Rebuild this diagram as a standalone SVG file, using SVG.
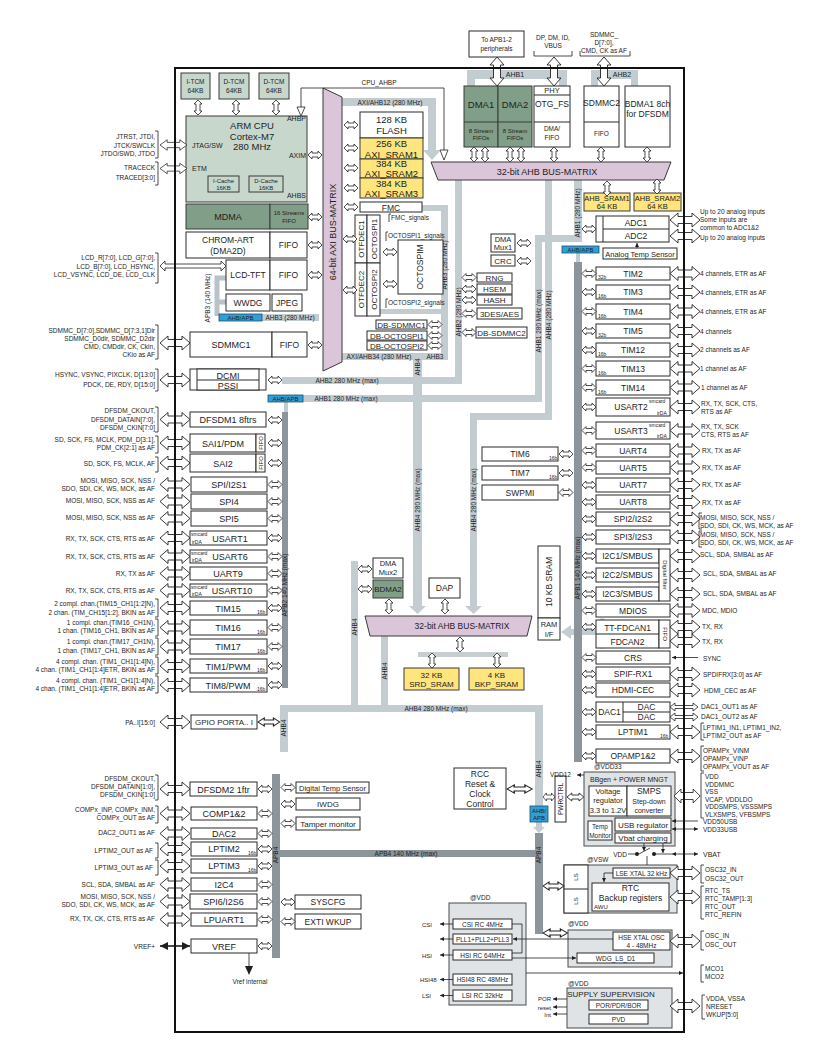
<svg xmlns="http://www.w3.org/2000/svg" width="837" height="1051" viewBox="0 0 837 1051">
<defs>
<style>
text{font-family:"Liberation Sans",Arial,Helvetica,sans-serif;fill:#1e1e1e}
.c{text-anchor:middle}.e{text-anchor:end}
.f5{font-size:5px}.f6{font-size:6px}.f65{font-size:6.5px}.f7{font-size:7px}.f75{font-size:7.5px}.f8{font-size:8px}.f85{font-size:8.5px}.f9{font-size:9px}.f95{font-size:9.5px}
.bx{fill:#fff;stroke:#2a2a2a;stroke-width:1}
.lg{fill:#c8d7cb;stroke:#3a3a3a;stroke-width:1}
.dg{fill:#819f88;stroke:#3a3a3a;stroke-width:1}
.ye{fill:#fee57d;stroke:#3a3a3a;stroke-width:1}
.pu{fill:#dbc5d9;stroke:#3a3a3a;stroke-width:1}
.pw{fill:#dfe3e6;stroke:#4a4a4a;stroke-width:1}
.bus{fill:#c3ccd1}
.apb{fill:#8c959b}
.ab{fill:#2f9fd8;stroke:#1d4f6e;stroke-width:0.8}
.ln{fill:none;stroke:#1e1e1e;stroke-width:0.8}
.br{fill:none;stroke:#1e1e1e;stroke-width:0.8}
.ah{fill:#1e1e1e}
</style>
<path id="da" d="M0,0 L4,-4 V-2 H10 V-4 L14,0 L10,4 V2 H4 V4 Z" fill="#fff" stroke="#222" stroke-width="0.8"/>
<path id="dv" d="M0,0 L4,4 H2 V11 H4 L0,15 L-4,11 H-2 V4 H-4 Z" fill="#fff" stroke="#222" stroke-width="0.8"/>
<path id="fa" d="M0,0 L8,-7 V-3.5 H22 V-7 L30,0 L22,7 V3.5 H8 V7 Z" fill="#fff" stroke="#222" stroke-width="0.9"/>
<path id="fv" d="M0,0 L7,8 H3.5 V21 H7 L0,29 L-7,21 H-3.5 V8 H-7 Z" fill="#fff" stroke="#222" stroke-width="0.9"/>
<path id="ta" d="M0,0 L5,-4 V-1.5 H23 V-4 L28,0 L23,4 V1.5 H5 V4 Z" fill="#fff" stroke="#222" stroke-width="0.8"/>
<marker id="m" viewBox="0 0 8 8" refX="8" refY="4" markerWidth="5" markerHeight="5" orient="auto-start-reverse"><path d="M0,0 L8,4 L0,8 Z" fill="#1e1e1e"/></marker>
</defs>
<rect width="837" height="1051" fill="#fff"/>

<!-- bus bars -->
<g id="buses">
<rect class="bus" x="467" y="70" width="100" height="9"/><rect class="bus" x="467" y="70" width="8" height="16"/><rect class="bus" x="559" y="70" width="8" height="16"/>
<rect class="bus" x="591" y="70" width="47" height="9"/><rect class="bus" x="591" y="70" width="7" height="16"/><rect class="bus" x="631" y="70" width="7" height="16"/>
<rect class="bus" x="342" y="98" width="94" height="8"/><rect class="bus" x="428" y="98" width="8" height="52"/><polygon class="bus" points="423,150 441,150 432,160"/>
<rect class="bus" x="422" y="205" width="26" height="6"/><rect class="bus" x="441" y="205" width="7" height="155"/><rect class="bus" x="342" y="353" width="106" height="7"/>
<rect class="bus" x="380" y="309" width="62" height="5"/>
<rect class="bus" x="455" y="180" width="7" height="204"/><rect class="bus" x="282" y="377" width="180" height="7"/>
<rect class="bus" x="574" y="180" width="8" height="62"/><rect class="bus" x="535" y="235" width="47" height="7"/><rect class="bus" x="535" y="235" width="7" height="167"/><rect class="bus" x="302" y="395" width="240" height="7"/>
<rect class="bus" x="545" y="180" width="7" height="240"/><rect class="bus" x="470" y="413" width="82" height="7"/><rect class="bus" x="470" y="413" width="7" height="193"/><polygon class="bus" points="465,606 482,606 473.5,614"/>
<rect class="bus" x="413" y="353" width="9" height="253"/><polygon class="bus" points="409,606 426,606 417.5,614"/>
<rect class="bus" x="576" y="253" width="4" height="9"/>
<rect class="bus" x="284" y="402" width="4" height="10"/>
<path d="M226,278 H217 V316 M226,302 H217" fill="none" stroke="#b9c2c7" stroke-width="5"/>
<rect class="bus" x="262" y="314" width="57" height="7"/>
<rect class="bus" x="351" y="561" width="7" height="150"/>
<rect class="bus" x="381" y="636" width="7" height="75"/>
<rect class="bus" x="280" y="705" width="263" height="7"/>
<rect class="bus" x="280" y="705" width="8" height="47"/>
<rect class="bus" x="535" y="705" width="8" height="101"/>
<rect class="bus" x="536" y="822" width="6" height="6"/><polygon class="bus" points="533,827 545,827 539,833"/>
<rect fill="#c8cdd0" x="418" y="652" width="90" height="5"/>
<path d="M600,620 H603 V647 H600" fill="none" stroke="#bfc6ca" stroke-width="3"/>
<rect class="bus" x="570" y="629" width="31" height="6"/><polygon class="bus" points="561,632 571,625 571,639"/>
<rect class="apb" x="574" y="262" width="8" height="500"/>
<rect class="apb" x="282" y="412" width="6" height="276"/>
<rect class="apb" x="272" y="774" width="8" height="184"/>
<rect class="apb" x="280" y="850" width="263" height="7"/>
<rect class="apb" x="535" y="833" width="8" height="101"/>
</g>

<!-- bus labels -->
<g id="bus-labels">
<text class="c f7" x="515" y="77">AHB1</text>
<text class="c f7" x="622" y="77">AHB2</text>
<text class="c f65" x="390" y="104.5">AXI/AHB12 (280 MHz)</text>
<text class="c f65" x="379" y="85">CPU_AHBP</text>
<text class="c f65" x="379" y="359">AXI/AHB34 (280 MHz)</text>
<text class="c f65" x="435" y="359">AHB3</text>
<text class="c f65" x="347" y="383">AHB2 280 MHz (max)</text>
<text class="c f65" x="346" y="401">AHB1 280 MHz (max)</text>
<text class="c f65" x="290" y="320">AHB3 (280 MHz)</text>
<text class="c f65" transform="translate(210,298) rotate(-90)">APB3 (140 MHz)</text>
<text class="c f65" transform="translate(447,265) rotate(-90)">AHB3 (280 MHz)</text>
<text class="c f65" transform="translate(461,312) rotate(-90)">AHB2 (280 MHz)</text>
<text class="c f65" transform="translate(541,321) rotate(-90)">AHB1 280 MHz (max)</text>
<text class="c f65" transform="translate(551,315) rotate(-90)">AHB4 (280 MHz)</text>
<text class="c f65" transform="translate(580,213) rotate(-90)">AHB1 (280 MHz)</text>
<text class="c f65" transform="translate(420,367) rotate(-90)">AHB4</text>
<text class="c f65" transform="translate(420,500) rotate(-90)">AHB4 280 MHz (max)</text>
<text class="c f65" transform="translate(476,500) rotate(-90)">AHB4 280 MHz (max)</text>
<text class="c f65" transform="translate(580,568) rotate(-90)">APB1   140 MHz (max)</text>
<text class="c f65" transform="translate(287,585) rotate(-90)">APB2   140 MHz (max)</text>
<text class="c f65" transform="translate(357,627) rotate(-90)">AHB4</text>
<text class="c f65" transform="translate(387,671) rotate(-90)">AHB4</text>
<text class="c f65" transform="translate(286,728) rotate(-90)">AHB4</text>
<text class="c f65" transform="translate(541,769) rotate(-90)">AHB4</text>
<text class="c f65" x="436" y="711">AHB4 280 MHz (max)</text>
<text class="c f65" x="406" y="856">APB4   140 MHz (max)</text>
<text class="c f65" transform="translate(541,855) rotate(-90)">APB4</text>
<text class="c f65" transform="translate(278,855) rotate(-90)">APB4</text>
<g id="ahbapb1"><rect class="ab" x="219" y="314" width="43" height="7"/><text class="c f6" x="240.5" y="320">AHB/APB</text></g>
<g id="ahbapb2"><rect class="ab" x="268" y="395" width="35" height="7"/><text class="c f6" x="285.5" y="401">AHB/APB</text></g>
<g id="ahbapb3"><rect class="ab" x="562" y="246" width="37" height="7"/><text class="c f6" x="580.5" y="252">AHB/APB</text></g>
<g id="ahbapb4"><rect class="ab" x="530" y="806" width="18" height="16"/><text class="c f6" x="539" y="813">AHB/</text><text class="c f6" x="539" y="820">APB</text></g>
</g>

<!-- core -->
<g id="itcm"><rect class="lg" x="181" y="73" width="29" height="26"/><text class="c f65" x="195.5" y="84">I-TCM</text><text class="c f65" x="195.5" y="93">64KB</text></g>
<g id="dtcm1"><rect class="lg" x="219" y="73" width="30" height="26"/><text class="c f65" x="234" y="84">D-TCM</text><text class="c f65" x="234" y="93">64KB</text></g>
<g id="dtcm2"><rect class="lg" x="259" y="73" width="30" height="26"/><text class="c f65" x="274" y="84">D-TCM</text><text class="c f65" x="274" y="93">64KB</text></g>
<g id="cpu"><rect class="lg" x="186" y="116" width="121" height="86"/>
<text class="c f95" x="252" y="129">ARM  CPU</text><text class="c f95" x="252" y="139.5">Cortex-M7</text><text class="c f95" x="252" y="150">280 MHz</text>
<text class="f7" x="192" y="147.5">JTAG/SW</text><text class="f7" x="192" y="170.5">ETM</text>
<text class="e f7" x="306" y="121">AHBP</text><text class="e f7" x="306" y="157.5">AXIM</text><text class="e f7" x="306" y="197.5">AHBS</text>
<rect class="lg" x="208" y="176" width="31" height="16"/><text class="c f6" x="223.5" y="183">I-Cache</text><text class="c f6" x="223.5" y="190">16KB</text>
<rect class="lg" x="249" y="176" width="34" height="16"/><text class="c f6" x="266" y="183">D-Cache</text><text class="c f6" x="266" y="190">16KB</text></g>
<g id="mdma"><rect class="dg" x="186" y="204" width="84" height="25"/><text class="c f9" x="228" y="220">MDMA</text>
<rect class="dg" x="270" y="204" width="38" height="25"/><text class="c f6" x="289" y="214.5">16 Streams</text><text class="c f6" x="289" y="223">FIFO</text></g>
<g id="dma2d"><rect class="bx" x="186" y="232" width="84" height="26"/><text class="c f85" x="228" y="242.5">CHROM-ART</text><text class="c f85" x="228" y="253.5">(DMA2D)</text>
<rect class="bx" x="270" y="232" width="37" height="26"/><text class="c f85" x="288.5" y="248">FIFO</text></g>
<g id="lcdtft"><rect class="bx" x="226" y="260" width="44" height="30"/><text class="c f85" x="248" y="278">LCD-TFT</text>
<rect class="bx" x="270" y="260" width="37" height="30"/><text class="c f85" x="288.5" y="278">FIFO</text></g>
<g id="wwdg"><rect class="bx" x="226" y="294" width="44" height="17"/><text class="c f85" x="248" y="305.5">WWDG</text></g>
<g id="jpeg"><rect class="bx" x="272" y="294" width="30" height="17"/><text class="c f85" x="287" y="305.5">JPEG</text></g>
<g id="axi-matrix"><polygon class="pu" points="323,88 342,97 342,362 323,371"/><text class="c f9" transform="translate(336,232) rotate(-90)">64-bit AXI BUS-MATRIX</text></g>
<g id="flash"><rect class="bx" x="360" y="112" width="63" height="26"/><text class="c f95" x="391.5" y="123">128 KB</text><text class="c f95" x="391.5" y="134">FLASH</text></g>
<g id="axisram"><rect class="ye" x="360" y="138" width="63" height="21"/><rect class="ye" x="360" y="159" width="63" height="19"/><rect class="ye" x="360" y="178" width="63" height="20"/>
<text class="c f95" x="391.5" y="147">256 KB</text><text class="c f95" x="391.5" y="157.5">AXI_SRAM1</text>
<text class="c f95" x="391.5" y="167">384 KB</text><text class="c f95" x="391.5" y="177">AXI_SRAM2</text>
<text class="c f95" x="391.5" y="186.5">384 KB</text><text class="c f95" x="391.5" y="196.5">AXI_SRAM3</text></g>
<g id="fmc"><rect class="bx" x="360" y="202" width="62" height="10"/><text class="c f85" x="391" y="210.5">FMC</text>
<path class="br" d="M391,214 H389 V222"/><text class="f65" x="391" y="220">FMC_signals</text></g>
<g id="octospi"><rect class="bx" x="355" y="215" width="12" height="48"/><rect class="bx" x="367" y="215" width="13" height="48"/>
<rect class="bx" x="355" y="263" width="12" height="53"/><rect class="bx" x="367" y="263" width="13" height="53"/>
<text class="c f8" transform="translate(364,239) rotate(-90)">OTFDEC1</text><text class="c f8" transform="translate(376.5,239) rotate(-90)">OCTOSPI1</text>
<text class="c f8" transform="translate(364,289.5) rotate(-90)">OTFDEC2</text><text class="c f8" transform="translate(376.5,289.5) rotate(-90)">OCTOSPI2</text>
<path class="br" d="M388,232 H386 V241"/><text class="f65" x="388" y="238">OCTOSPI1_signals</text>
<path class="br" d="M388,299 H386 V308"/><text class="f65" x="388" y="305">OCTOSPI2_signals</text></g>
<g id="octospim"><rect class="bx" x="398" y="240" width="45" height="54"/><text class="c f85" transform="translate(423,267) rotate(-90)">OCTOSPIM</text></g>
<g id="dbsdmmc1"><rect class="bx" x="376" y="320" width="51" height="9"/><text class="c f8" x="401.5" y="327.5">DB-SDMMC1</text></g>
<g id="dbospi1"><rect class="bx" x="367" y="331" width="60" height="9"/><text class="c f8" x="397" y="338.5">DB-OCTOSPI1</text></g>
<g id="dbospi2"><rect class="bx" x="367" y="341" width="60" height="9"/><text class="c f8" x="397" y="348.5">DB-OCTOSPI2</text></g>

<!-- top AHB side -->
<g id="to-apb"><rect class="bx" x="469" y="31" width="55" height="26"/><text class="c f65" x="496.5" y="42">To APB1-2</text><text class="c f65" x="496.5" y="51">peripherals</text></g>
<g id="usb-pins"><text class="c f65" x="553" y="40">DP, DM, ID,</text><text class="c f65" x="553" y="48">VBUS</text><path class="br" d="M534,51 V56 H572 V51"/></g>
<g id="sdmmc2-pins"><text class="c f65" x="604" y="37">SDMMC_</text><text class="c f65" x="604" y="45">D[7:0],</text><text class="c f65" x="604" y="53">CMD, CK as AF</text><path class="br" d="M580,51 V56 H630 V51"/></g>
<g id="dma1"><rect class="dg" x="464" y="86" width="34" height="61"/><line x1="464" y1="122" x2="498" y2="122" stroke="#3a3a3a"/><text class="c f95" x="481" y="108">DMA1</text><text class="c f6" x="481" y="133">8 Stream</text><text class="c f6" x="481" y="140">FIFOs</text></g>
<g id="dma2"><rect class="dg" x="498" y="86" width="34" height="61"/><line x1="498" y1="122" x2="532" y2="122" stroke="#3a3a3a"/><text class="c f95" x="515" y="108">DMA2</text><text class="c f6" x="515" y="133">8 Stream</text><text class="c f6" x="515" y="140">FIFOs</text></g>
<g id="otg"><rect class="bx" x="534" y="86" width="36" height="61"/><line x1="534" y1="95" x2="570" y2="95" stroke="#2a2a2a"/><line x1="534" y1="122" x2="570" y2="122" stroke="#2a2a2a"/>
<text class="c f75" x="552" y="93">PHY</text><text class="c f85" x="552" y="107">OTG_FS</text><text class="c f65" x="552" y="131">DMA/</text><text class="c f65" x="552" y="140">FIFO</text></g>
<g id="sdmmc2"><rect class="bx" x="584" y="86" width="35" height="61"/><line x1="584" y1="122" x2="619" y2="122" stroke="#2a2a2a"/><text class="c f85" x="601.5" y="106">SDMMC2</text><text class="c f65" x="601.5" y="136">FIFO</text></g>
<g id="bdma1"><rect class="bx" x="625" y="86" width="45" height="61"/><text class="c f85" x="647.5" y="107">BDMA1 8ch</text><text class="c f85" x="647.5" y="117">for DFSDM</text></g>
<g id="ahb-matrix1"><polygon class="pu" points="431,162 671,162 664,180 438,180"/><text class="c f9" x="547" y="174.5">32-bit AHB BUS-MATRIX</text></g>
<g id="ahbsram1"><rect class="ye" x="584" y="193" width="46" height="18"/><text class="c f75" x="607" y="201">AHB_SRAM1</text><text class="c f75" x="607" y="209">64 KB</text></g>
<g id="ahbsram2"><rect class="ye" x="634" y="193" width="47" height="18"/><text class="c f75" x="657.5" y="201">AHB_SRAM2</text><text class="c f75" x="657.5" y="209">64 KB</text></g>
<g id="adc"><rect class="bx" x="596" y="216" width="73" height="26"/><line x1="603" y1="216" x2="603" y2="242" stroke="#2a2a2a"/><line x1="603" y1="229" x2="669" y2="229" stroke="#2a2a2a"/>
<text class="c f85" x="636" y="225.5">ADC1</text><text class="c f85" x="636" y="238.5">ADC2</text></g>
<g id="tempsens"><rect class="bx" x="603" y="248" width="74" height="11"/><text class="c f75" x="640" y="256.5">Analog Temp Sensor</text></g>
<g id="dmamux1"><rect class="bx" x="491" y="234" width="24" height="18"/><text class="c f75" x="503" y="241.5">DMA</text><text class="c f75" x="503" y="250">Mux1</text></g>
<g id="crc"><rect class="bx" x="491" y="255" width="24" height="11"/><text class="c f8" x="503" y="263.5">CRC</text></g>
<g id="rng"><rect class="bx" x="477" y="273" width="35" height="9"/><text class="c f8" x="494.5" y="280.5">RNG</text></g>
<g id="hsem"><rect class="bx" x="477" y="284" width="35" height="10"/><text class="c f8" x="494.5" y="292">HSEM</text></g>
<g id="hash"><rect class="bx" x="477" y="295" width="35" height="10"/><text class="c f8" x="494.5" y="303">HASH</text></g>
<g id="aes"><rect class="bx" x="477" y="308" width="45" height="11"/><text class="c f8" x="499.5" y="316.5">3DES/AES</text></g>
<g id="dbsdmmc2"><rect class="bx" x="476" y="327" width="51" height="11"/><text class="c f8" x="501.5" y="335.5">DB-SDMMC2</text></g>

<!-- left peripherals -->
<g id="sdmmc1"><rect class="bx" x="190" y="332" width="82" height="25"/><text class="c f9" x="231" y="347.5">SDMMC1</text><rect class="bx" x="272" y="332" width="35" height="25"/><text class="c f85" x="289.5" y="347.5">FIFO</text></g>
<g id="dcmi"><rect class="bx" x="190" y="369" width="76" height="21"/><rect class="bx" x="197" y="369" width="62" height="21"/><line x1="197" y1="380" x2="259" y2="380" stroke="#2a2a2a"/>
<text class="c f9" x="228" y="378.5">DCMI</text><text class="c f9" x="228" y="388.5">PSSI</text></g>
<g id="dfsdm1"><rect class="bx" x="190" y="412" width="76" height="15"/><text class="c f9" x="228" y="423">DFSDM1 8ftrs</text></g>
<g id="sai1"><rect class="bx" x="190" y="434" width="66" height="18"/><text class="c f9" x="223" y="446.5">SAI1/PDM</text><rect class="bx" x="256" y="434" width="9" height="18"/><text class="c f6" transform="translate(262.5,443) rotate(-90)">FIFO</text></g>
<g id="sai2"><rect class="bx" x="190" y="454" width="66" height="18"/><text class="c f9" x="223" y="466.5">SAI2</text><rect class="bx" x="256" y="454" width="9" height="18"/><text class="c f6" transform="translate(262.5,463) rotate(-90)">FIFO</text></g>
<g id="spi1"><rect class="bx" x="191" y="477" width="76" height="15"/><text class="c f9" x="229" y="488">SPI/I2S1</text></g>
<g id="spi4"><rect class="bx" x="191" y="494" width="76" height="15"/><text class="c f9" x="229" y="505">SPI4</text></g>
<g id="spi5"><rect class="bx" x="191" y="511" width="76" height="15"/><text class="c f9" x="229" y="522">SPI5</text></g>
<g id="usart1"><rect class="bx" x="190" y="531" width="77" height="14"/><text class="c f9" x="230" y="541.5">USART1</text><text class="f5" x="191" y="536">smcard</text><text class="f5" x="192" y="543.5">irDA</text></g>
<g id="usart6"><rect class="bx" x="190" y="550" width="77" height="13"/><text class="c f9" x="230" y="560">USART6</text><text class="f5" x="191" y="555">smcard</text><text class="f5" x="192" y="561.5">irDA</text></g>
<g id="uart9"><rect class="bx" x="190" y="567" width="77" height="13"/><text class="c f9" x="228" y="577">UART9</text></g>
<g id="usart10"><rect class="bx" x="190" y="584" width="77" height="13"/><text class="c f9" x="232" y="594">USART10</text><text class="f5" x="191" y="589">smcard</text><text class="f5" x="192" y="595.5">irDA</text></g>
<g id="tim15"><rect class="bx" x="190" y="601" width="77" height="14"/><text class="c f9" x="228" y="611.5">TIM15</text><text class="f5" x="257" y="613.5">16b</text></g>
<g id="tim16"><rect class="bx" x="190" y="620" width="77" height="15"/><text class="c f9" x="228" y="630.5">TIM16</text><text class="f5" x="257" y="633.5">16b</text></g>
<g id="tim17"><rect class="bx" x="190" y="639" width="77" height="15"/><text class="c f9" x="228" y="649.5">TIM17</text><text class="f5" x="257" y="652.5">16b</text></g>
<g id="tim1"><rect class="bx" x="190" y="659" width="77" height="14"/><text class="c f9" x="228" y="669.5">TIM1/PWM</text><text class="f5" x="257" y="671.5">16b</text></g>
<g id="tim8"><rect class="bx" x="190" y="678" width="77" height="14"/><text class="c f9" x="228" y="688.5">TIM8/PWM</text><text class="f5" x="257" y="690.5">16b</text></g>
<g id="gpio"><rect class="bx" x="191" y="715" width="66" height="14"/><text class="c f8" x="224" y="725">GPIO PORTA.. I</text></g>
<g id="dfsdm2"><rect class="bx" x="190" y="782" width="67" height="14"/><text class="c f9" x="223.5" y="792.5">DFSDM2 1ftr</text></g>
<g id="comp"><rect class="bx" x="191" y="807" width="66" height="13"/><text class="c f9" x="224" y="817">COMP1&amp;2</text></g>
<g id="dac2"><rect class="bx" x="191" y="828" width="66" height="11"/><text class="c f9" x="224" y="837">DAC2</text></g>
<g id="lptim2"><rect class="bx" x="191" y="842" width="66" height="14"/><text class="c f9" x="224" y="852">LPTIM2</text><text class="f5" x="248" y="854.5">16b</text></g>
<g id="lptim3"><rect class="bx" x="191" y="859" width="66" height="14"/><text class="c f9" x="224" y="869">LPTIM3</text><text class="f5" x="248" y="871.5">16b</text></g>
<g id="i2c4"><rect class="bx" x="191" y="878" width="66" height="13"/><text class="c f9" x="224" y="888">I2C4</text></g>
<g id="spi6"><rect class="bx" x="190" y="894" width="67" height="15"/><text class="c f9" x="223.5" y="905">SPI6/I2S6</text></g>
<g id="lpuart1"><rect class="bx" x="191" y="913" width="66" height="13"/><text class="c f9" x="224" y="923">LPUART1</text></g>
<g id="vref"><rect class="bx" x="191" y="939" width="66" height="14"/><text class="c f9" x="224" y="949.5">VREF</text><text class="c f65" x="250" y="984">Vref internal</text></g>
<g id="dtsens"><rect class="bx" x="296" y="782" width="73" height="11"/><text class="c f75" x="332.5" y="790.5">Digital Temp Sensor</text></g>
<g id="iwdg"><rect class="bx" x="296" y="798" width="64" height="12"/><text class="c f8" x="328" y="807">IWDG</text></g>
<g id="tamper"><rect class="bx" x="296" y="817" width="64" height="13"/><text class="c f8" x="328" y="826.5">Tamper monitor</text></g>
<g id="syscfg"><rect class="bx" x="295" y="895" width="66" height="14"/><text class="c f85" x="328" y="905">SYSCFG</text></g>
<g id="exti"><rect class="bx" x="295" y="914" width="66" height="15"/><text class="c f85" x="328" y="924.5">EXTI WKUP</text></g>

<!-- AHB4 domain -->
<g id="dmamux2"><rect class="bx" x="373" y="558" width="30" height="20"/><text class="c f75" x="388" y="566">DMA</text><text class="c f75" x="388" y="575">Mux2</text></g>
<g id="bdma2"><rect class="dg" x="373" y="580" width="30" height="18"/><text class="c f8" x="388" y="592">BDMA2</text></g>
<g id="dap"><rect class="bx" x="429" y="578" width="31" height="20"/><text class="c f85" x="444.5" y="591">DAP</text></g>
<g id="ahb-matrix2"><polygon class="pu" points="365,616 532,616 527,636 370,636"/><text class="c f85" x="462" y="629">32-bit AHB BUS-MATRIX</text></g>
<g id="srdsram"><rect class="ye" x="404" y="668" width="55" height="22"/><text class="c f8" x="431.5" y="677.5">32 KB</text><text class="c f8" x="431.5" y="687">SRD_SRAM</text></g>
<g id="bkpsram"><rect class="ye" x="469" y="668" width="55" height="22"/><text class="c f8" x="496.5" y="677.5">4 KB</text><text class="c f8" x="496.5" y="687">BKP_SRAM</text></g>
<g id="sram10"><rect class="bx" x="538" y="546" width="22" height="72"/><text class="c f85" transform="translate(552,582) rotate(-90)">10 KB SRAM</text></g>
<g id="ramif"><rect class="bx" x="538" y="618" width="22" height="22"/><text class="c f75" x="549" y="627">RAM</text><text class="c f75" x="549" y="637">I/F</text></g>
<g id="tim6"><rect class="bx" x="482" y="447" width="76" height="14"/><text class="c f85" x="520" y="457">TIM6</text><text class="f5" x="549" y="459.5">16b</text></g>
<g id="tim7"><rect class="bx" x="482" y="466" width="76" height="14"/><text class="c f85" x="520" y="476">TIM7</text><text class="f5" x="549" y="478.5">16b</text></g>
<g id="swpmi"><rect class="bx" x="482" y="485" width="76" height="15"/><text class="c f85" x="520" y="495.5">SWPMI</text></g>
<g id="rcc"><rect class="bx" x="454" y="768" width="52" height="41"/><text class="c f85" x="480" y="776.5">RCC</text><text class="c f85" x="480" y="787">Reset &amp;</text><text class="c f85" x="480" y="797">Clock</text><text class="c f85" x="480" y="807">Control</text></g>

<!-- APB1 peripherals -->
<g id="tim2"><rect class="bx" x="596" y="267" width="74" height="13"/><text class="c f85" x="633" y="276.5">TIM2</text><text class="f5" x="598" y="278.5">32b</text></g>
<g id="tim3"><rect class="bx" x="596" y="285" width="74" height="14"/><text class="c f85" x="633" y="295">TIM3</text><text class="f5" x="598" y="297.5">16b</text></g>
<g id="tim4"><rect class="bx" x="596" y="304" width="74" height="15"/><text class="c f85" x="633" y="314.5">TIM4</text><text class="f5" x="598" y="317.5">16b</text></g>
<g id="tim5"><rect class="bx" x="596" y="324" width="74" height="14"/><text class="c f85" x="633" y="334">TIM5</text><text class="f5" x="598" y="336.5">32b</text></g>
<g id="tim12"><rect class="bx" x="596" y="343" width="74" height="14"/><text class="c f85" x="633" y="353">TIM12</text><text class="f5" x="598" y="355.5">16b</text></g>
<g id="tim13"><rect class="bx" x="596" y="361" width="74" height="15"/><text class="c f85" x="633" y="371.5">TIM13</text><text class="f5" x="598" y="374.5">16b</text></g>
<g id="tim14"><rect class="bx" x="596" y="380" width="74" height="15"/><text class="c f85" x="633" y="390.5">TIM14</text><text class="f5" x="598" y="393.5">16b</text></g>
<g id="usart2"><rect class="bx" x="596" y="398" width="74" height="18"/><text class="c f85" x="631" y="410">USART2</text><text class="f5" x="649" y="403">smcard</text><text class="f5" x="657" y="414.5">irDA</text></g>
<g id="usart3"><rect class="bx" x="596" y="422" width="74" height="17"/><text class="c f85" x="631" y="433.5">USART3</text><text class="f5" x="649" y="427">smcard</text><text class="f5" x="657" y="437.5">irDA</text></g>
<g id="uart4"><rect class="bx" x="596" y="444" width="74" height="13"/><text class="c f85" x="633" y="453.5">UART4</text></g>
<g id="uart5"><rect class="bx" x="596" y="461" width="74" height="13"/><text class="c f85" x="633" y="470.5">UART5</text></g>
<g id="uart7"><rect class="bx" x="596" y="478" width="74" height="14"/><text class="c f85" x="633" y="488">UART7</text></g>
<g id="uart8"><rect class="bx" x="596" y="495" width="74" height="14"/><text class="c f85" x="633" y="505">UART8</text></g>
<g id="spi2"><rect class="bx" x="596" y="512" width="74" height="14"/><text class="c f85" x="633" y="522">SPI2/I2S2</text></g>
<g id="spi3"><rect class="bx" x="596" y="530" width="74" height="14"/><text class="c f85" x="633" y="540">SPI3/I2S3</text></g>
<g id="i2c1"><rect class="bx" x="596" y="549" width="63" height="14"/><text class="c f85" x="627.5" y="559">I2C1/SMBUS</text></g>
<g id="i2c2"><rect class="bx" x="596" y="568" width="63" height="14"/><text class="c f85" x="627.5" y="578">I2C2/SMBUS</text></g>
<g id="i2c3"><rect class="bx" x="596" y="587" width="63" height="14"/><text class="c f85" x="627.5" y="597">I2C3/SMBUS</text></g>
<g id="dfilter"><rect class="bx" x="659" y="549" width="11" height="52"/><text class="c f6" transform="translate(662.5,575) rotate(90)">Digital filter</text></g>
<g id="mdios"><rect class="bx" x="596" y="604" width="74" height="13"/><text class="c f85" x="633" y="613.5">MDIOS</text></g>
<g id="fdcan"><rect class="bx" x="596" y="620" width="63" height="28"/><line x1="596" y1="634" x2="659" y2="634" stroke="#2a2a2a"/><text class="c f85" x="627.5" y="630.5">TT-FDCAN1</text><text class="c f85" x="627.5" y="644.5">FDCAN2</text>
<rect class="bx" x="659" y="620" width="11" height="28"/><text class="c f6" transform="translate(662.5,634) rotate(90)">FIFO</text></g>
<g id="crs"><rect class="bx" x="596" y="651" width="74" height="13"/><text class="c f85" x="633" y="660.5">CRS</text></g>
<g id="spdif"><rect class="bx" x="596" y="667" width="74" height="14"/><text class="c f85" x="633" y="677">SPIF-RX1</text></g>
<g id="hdmi"><rect class="bx" x="596" y="683" width="74" height="14"/><text class="c f85" x="633" y="693">HDMI-CEC</text></g>
<g id="dac1"><rect class="bx" x="596" y="702" width="74" height="20"/><line x1="623" y1="702" x2="623" y2="722" stroke="#2a2a2a"/><line x1="623" y1="712" x2="670" y2="712" stroke="#2a2a2a"/>
<text class="c f85" x="609.5" y="715">DAC1</text><text class="c f85" x="646.5" y="710">DAC</text><text class="c f85" x="646.5" y="720">DAC</text></g>
<g id="lptim1"><rect class="bx" x="596" y="725" width="74" height="14"/><text class="c f85" x="633" y="735">LPTIM1</text><text class="f5" x="660" y="737.5">16b</text></g>
<g id="opamp"><rect class="bx" x="596" y="749" width="74" height="14"/><text class="c f85" x="633" y="759">OPAMP1&amp;2</text></g>

<!-- power, backup, clocks -->
<g id="pwrctrl"><rect class="bx" x="555" y="776" width="11" height="46"/><text class="c f65" transform="translate(563,799) rotate(-90)">PWRCTRL</text></g>
<g id="power"><text class="f65" x="594" y="769">@VDD33</text><rect class="pw" x="584" y="772" width="91" height="74"/><text class="c f7" x="629" y="782">BBgen + POWER MNGT</text>
<rect class="bx" x="589" y="786" width="38" height="30"/><text class="c f75" x="608" y="793.5">Voltage</text><text class="c f75" x="608" y="803">regulator</text><text class="c f75" x="608" y="812.5">3.3 to 1.2V</text>
<rect class="bx" x="627" y="786" width="44" height="30"/><text class="c f85" x="649" y="794">SMPS</text><text class="c f7" x="649" y="803.5">Step-down</text><text class="c f7" x="649" y="812.5">converter</text>
<rect class="bx" x="588" y="821" width="24" height="19"/><text class="c f65" x="600" y="829">Temp</text><text class="c f65" x="600" y="837.5">Monitor</text>
<rect class="bx" x="615" y="818" width="56" height="13"/><text class="c f8" x="643" y="827.5">USB regulator</text>
<rect class="bx" x="615" y="833" width="56" height="10"/><text class="c f8" x="643" y="841">Vbat charging</text></g>
<g id="vdd12"><text class="e f65" x="571" y="777">VDD12</text></g>
<g id="vswitch"><text class="e f65" x="627" y="856.5">VDD</text><circle cx="637" cy="854" r="2" fill="#1e1e1e"/><circle cx="654" cy="854" r="2" fill="#1e1e1e"/>
<path class="ln" d="M628,854 H637 M639,854 L650,848 M654,854 H672"/><text class="f7" x="703" y="856.5">VBAT</text><text class="f65" x="587" y="862">@VSW</text></g>
<g id="backup"><rect class="pw" x="564" y="865" width="113" height="48"/><rect class="bx" x="564" y="865" width="24" height="48"/><line x1="564" y1="889" x2="588" y2="889" stroke="#2a2a2a"/>
<text class="c f6" transform="translate(578,877) rotate(-90)">LS</text><text class="c f6" transform="translate(578,901) rotate(-90)">LS</text>
<rect class="bx" x="613" y="868" width="57" height="10"/><text class="c f65" x="641.5" y="875.5">LSE XTAL 32 kHz</text>
<rect class="bx" x="592" y="883" width="77" height="28"/><text class="c f85" x="630.5" y="891">RTC</text><text class="c f85" x="630.5" y="901">Backup registers</text><text class="f6" x="594" y="909">AWU</text></g>
<g id="hse"><text class="f65" x="568" y="926">@VDD</text><rect class="pw" x="568" y="930" width="104" height="37"/>
<rect class="bx" x="613" y="932" width="57" height="18"/><text class="c f65" x="641.5" y="940">HSE XTAL OSC</text><text class="c f65" x="641.5" y="947.5">4 - 48MHz</text>
<rect class="bx" x="577" y="953" width="77" height="10"/><text class="c f65" x="615.5" y="960.5">WDG_LS_D1</text></g>
<g id="supply"><text class="f65" x="568" y="986">@VDD</text><rect class="pw" x="567" y="988" width="105" height="40"/><text class="c f8" x="611" y="996.5">SUPPLY SUPERVISION</text>
<rect class="bx" x="589" y="1000" width="59" height="10"/><text class="c f65" x="618.5" y="1007.5">POR/PDR/BOR</text>
<rect class="bx" x="589" y="1014" width="59" height="10"/><text class="c f65" x="618.5" y="1021.5">PVD</text>
<text class="e f6" x="551" y="1001">POR</text><text class="e f6" x="551" y="1010">reset</text><text class="e f6" x="551" y="1017">Int</text></g>
<g id="clocks"><text class="f65" x="470" y="900">@VDD</text><rect class="pw" x="449" y="903" width="77" height="102"/>
<rect class="bx" x="453" y="919" width="59" height="10"/><text class="c f65" x="482.5" y="926.5">CSI RC  4MHz</text>
<rect class="bx" x="453" y="934" width="59" height="10"/><text class="c f65" x="482.5" y="941.5">PLL1+PLL2+PLL3</text>
<rect class="bx" x="453" y="950" width="59" height="10"/><text class="c f65" x="482.5" y="957.5">HSI RC  64MHz</text>
<rect class="bx" x="453" y="974" width="59" height="11"/><text class="c f65" x="482.5" y="982">HSI48 RC  48MHz</text>
<rect class="bx" x="453" y="990" width="59" height="11"/><text class="c f65" x="482.5" y="998">LSI RC  32kHz</text>
<text class="f6" x="422" y="926.5">CSI</text><text class="f6" x="422" y="957.5">HSI</text><text class="f6" x="420" y="981.5">HSI48</text><text class="f6" x="422" y="997.5">LSI</text></g>

<!-- pin labels -->
<g id="pins-left">
<text class="e f65" x="155" y="138.5">JTRST, JTDI,</text><text class="e f65" x="155" y="147.5">JTCK/SWCLK</text><text class="e f65" x="155" y="156">JTDO/SWD, JTDO</text><path class="br" d="M155,131 H158 V158 H155"/>
<text class="e f65" x="155" y="170">TRACECK</text><text class="e f65" x="155" y="180">TRACED[3:0]</text><path class="br" d="M155,162 H158 V185 H155"/>
<text class="e f65" x="155" y="260">LCD_R[7:0], LCD_G[7:0],</text><text class="e f65" x="155" y="268.5">LCD_B[7:0], LCD_HSYNC,</text><text class="e f65" x="155" y="277">LCD_VSYNC, LCD_DE, LCD_CLK</text><path class="br" d="M155,253 H158 V283 H155"/>
<text class="e f65" x="155" y="333">SDMMC_D[7:0],SDMMC_D[7:3,1]Dir</text><text class="e f65" x="155" y="341">SDMMC_D0dir, SDMMC_D2dir</text><text class="e f65" x="155" y="349">CMD, CMDdir, CK, Ckin,</text><text class="e f65" x="155" y="357">CKio as AF</text><path class="br" d="M155,325 H158 V359 H155"/>
<text class="e f65" x="155" y="377">HSYNC, VSYNC, PIXCLK, D[13:0]</text><text class="e f65" x="155" y="387">PDCK, DE, RDY, D[15:0]</text><path class="br" d="M155,369 H158 V391 H155"/>
<text class="e f65" x="155" y="413">DFSDM_CKOUT,</text><text class="e f65" x="155" y="422">DFSDM_DATAIN[7:0],</text><text class="e f65" x="155" y="430">DFSDM_CKIN[7:0]</text><path class="br" d="M155,407 H158 V432 H155"/>
<text class="e f65" x="155" y="442">SD, SCK, FS, MCLK, PDM_D[3:1],</text><text class="e f65" x="155" y="450">PDM_CK[2:1] as AF</text><path class="br" d="M155,436 H158 V453 H155"/>
<text class="e f65" x="155" y="466">SD, SCK, FS, MCLK, AF</text><path class="br" d="M155,457 H158 V472 H155"/>
<text class="e f65" x="155" y="483">MOSI, MISO, SCK, NSS /</text><text class="e f65" x="155" y="491">SDO, SDI, CK, WS, MCK, as AF</text>
<text class="e f65" x="155" y="503">MOSI, MISO, SCK, NSS as AF</text>
<text class="e f65" x="155" y="520">MOSI, MISO, SCK, NSS as AF</text>
<text class="e f65" x="155" y="541">RX, TX, SCK, CTS, RTS as AF</text>
<text class="e f65" x="155" y="558.5">RX, TX, SCK, CTS, RTS as AF</text>
<text class="e f65" x="155" y="575.5">RX, TX as AF</text>
<text class="e f65" x="155" y="592.5">RX, TX, SCK, CTS, RTS as AF</text>
<text class="e f65" x="155" y="606">2 compl. chan.(TIM15_CH1[1:2]N),</text><text class="e f65" x="155" y="615">2 chan. (TIM_CH15[1:2], BKIN as AF</text><path class="br" d="M155,599 H158 V617 H155"/>
<text class="e f65" x="155" y="624.5">1 compl. chan.(TIM16_CH1N),</text><text class="e f65" x="155" y="633">1 chan. (TIM16_CH1, BKIN as AF</text><path class="br" d="M155,619 H158 V636 H155"/>
<text class="e f65" x="155" y="644">1 compl. chan.(TIM17_CH1N),</text><text class="e f65" x="155" y="652.5">1 chan. (TIM17_CH1, BKIN as AF</text><path class="br" d="M155,638 H158 V655 H155"/>
<text class="e f65" x="155" y="663.5">4 compl. chan. (TIM1_CH1[1:4]N),</text><text class="e f65" x="155" y="672">4 chan. (TIM1_CH1[1:4]ETR, BKIN as AF</text><path class="br" d="M155,657 H158 V674 H155"/>
<text class="e f65" x="155" y="682.5">4 compl. chan. (TIM1_CH1[1:4]N),</text><text class="e f65" x="155" y="691">4 chan. (TIM1_CH1[1:4]ETR, BKIN as AF</text><path class="br" d="M155,676 H158 V693 H155"/>
<text class="e f65" x="155" y="725">PA..I[15:0]</text>
<text class="e f65" x="155" y="781">DFSDM_CKOUT,</text><text class="e f65" x="155" y="789">DFSDM_DATAIN[1:0],</text><text class="e f65" x="155" y="797">DFSDM_CKIN[1:0]</text><path class="br" d="M155,775 H158 V800 H155"/>
<text class="e f65" x="155" y="812">COMPx_INP, COMPx_INM,</text><text class="e f65" x="155" y="820">COMPx_OUT as AF</text><path class="br" d="M155,806 H158 V823 H155"/>
<text class="e f65" x="155" y="835">DAC2_OUT1 as AF</text>
<text class="e f65" x="153" y="853">LPTIM2_OUT as AF</text><path class="br" d="M155,843 H158 V858 H155"/>
<text class="e f65" x="153" y="870">LPTIM3_OUT as AF</text><path class="br" d="M155,860 H158 V875 H155"/>
<text class="e f65" x="155" y="887">SCL, SDA, SMBAL as AF</text>
<text class="e f65" x="155" y="899">MOSI, MISO, SCK, NSS /</text><text class="e f65" x="155" y="907">SDO, SDI, CK, WS, MCK, as AF</text>
<text class="e f65" x="155" y="921">RX, TX, CK, CTS, RTS as AF</text>
<text class="e f65" x="155" y="948.5">VREF+</text>
</g>
<g id="pins-right">
<text class="f65" x="700" y="214">Up to 20 analog inputs</text><text class="f65" x="700" y="222">Some inputs are</text><text class="f65" x="700" y="230">common to ADC1&amp;2</text><text class="f65" x="700" y="240">Up to 20 analog inputs</text>
<text class="f65" x="700" y="276">4 channels, ETR as AF</text>
<text class="f65" x="700" y="294.5">4 channels, ETR as AF</text>
<text class="f65" x="700" y="313.5">4 channels, ETR as AF</text>
<text class="f65" x="700" y="333.5">4 channels</text>
<text class="f65" x="700" y="352">2 channels as AF</text>
<text class="f65" x="700" y="371">1 channel as AF</text>
<text class="f65" x="701" y="389.5">1 channel as AF</text>
<text class="f65" x="701" y="406">RX, TX, SCK, CTS,</text><text class="f65" x="701" y="414">RTS as AF</text>
<text class="f65" x="701" y="428.5">RX, TX, SCK</text><text class="f65" x="701" y="436.5">CTS, RTS as AF</text>
<text class="f65" x="702" y="452.5">RX, TX as AF</text>
<text class="f65" x="702" y="470">RX, TX as AF</text>
<text class="f65" x="702" y="487">RX, TX as AF</text>
<text class="f65" x="702" y="504.5">RX, TX as AF</text>
<text class="f65" x="700" y="519.5">MOSI, MISO, SCK, NSS /</text><text class="f65" x="700" y="527.5">SDO, SDI, CK, WS, MCK, as AF</text><path class="br" d="M702,513 H699 V529 H702"/>
<text class="f65" x="700" y="537">MOSI, MISO, SCK, NSS /</text><text class="f65" x="700" y="545">SDO, SDI, CK, WS, MCK, as AF</text><path class="br" d="M702,531 H699 V547 H702"/>
<text class="f65" x="700" y="556.5">SCL, SDA, SMBAL as AF</text>
<text class="f65" x="703" y="575.5">SCL, SDA, SMBAL as AF</text>
<text class="f65" x="703" y="595.5">SCL, SDA, SMBAL as AF</text>
<text class="f65" x="702" y="612.5">MDC, MDIO</text>
<text class="f65" x="702" y="628.5">TX, RX</text>
<text class="f65" x="702" y="644">TX, RX</text>
<text class="f65" x="703" y="660.5">SYNC</text>
<text class="f65" x="703" y="677">SPDIFRX[3:0] as AF</text>
<text class="f65" x="704" y="693">HDMI_CEC as AF</text>
<text class="f65" x="701" y="709">DAC1_OUT1 as AF</text>
<text class="f65" x="701" y="719">DAC1_OUT2 as AF</text>
<text class="f65" x="703" y="729.5">LPTIM1_IN1, LPTIM1_IN2,</text><text class="f65" x="703" y="737.5">LPTIM2_OUT as AF</text><path class="br" d="M704,723 H701 V740 H704"/>
<text class="f65" x="703" y="752.5">OPAMPx_VINM</text><text class="f65" x="703" y="760.5">OPAMPx_VINP</text><text class="f65" x="703" y="769">OPAMPx_VOUT as AF</text><path class="br" d="M704,746 H701 V771 H704"/>
<text class="f65" x="705" y="779">VDD</text><text class="f65" x="705" y="786.5">VDDMMC</text><text class="f65" x="705" y="794">VSS</text><text class="f65" x="705" y="801.5">VCAP, VDDLDO</text><text class="f65" x="705" y="809">VDDSMPS, VSSSMPS</text><text class="f65" x="705" y="816.5">VLXSMPS, VFBSMPS</text><path class="br" d="M704,773 H701 V818 H704"/>
<text class="f65" x="703" y="823.5">VDD50USB</text><text class="f65" x="703" y="831.5">VDD33USB</text>
<text class="f65" x="705" y="872">OSC32_IN</text><text class="f65" x="705" y="880.5">OSC32_OUT</text><path class="br" d="M704,865 H701 V883 H704"/>
<text class="f65" x="705" y="893">RTC_TS</text><text class="f65" x="705" y="901">RTC_TAMP[1:3]</text><text class="f65" x="705" y="909">RTC_OUT</text><text class="f65" x="705" y="917">RTC_REFIN</text><path class="br" d="M704,886 H701 V919 H704"/>
<text class="f65" x="705" y="938">OSC_IN</text><text class="f65" x="705" y="947">OSC_OUT</text><path class="br" d="M704,931 H701 V950 H704"/>
<text class="f65" x="705" y="971">MCO1</text><text class="f65" x="705" y="979">MCO2</text><path class="br" d="M704,965 H701 V982 H704"/>
<text class="f65" x="706" y="1001">VDDA, VSSA</text><text class="f65" x="706" y="1009">NRESET</text><text class="f65" x="706" y="1017">WKUP[5:0]</text><path class="br" d="M705,995 H702 V1019 H705"/>
</g>

<!-- connectors -->
<g id="connectors">
<use href="#dv" x="198" y="100"/><use href="#dv" x="236" y="100"/><use href="#dv" x="276" y="100"/>
<path d="M301,88 H444 V150" class="ln"/><path d="M301,88 V107" class="ln"/>
<path d="M297,107 H305 L301,116 Z" fill="#fff" stroke="#222" stroke-width="0.8"/>
<path d="M440,150 H448 L444,160 Z" fill="#fff" stroke="#222" stroke-width="0.8"/>
<use href="#da" x="308" y="155"/><use href="#da" x="308" y="217"/><use href="#da" x="308" y="245"/><use href="#da" x="308" y="275"/><use href="#da" x="308" y="345"/>
<use href="#da" x="344" y="125"/><use href="#da" x="344" y="148"/><use href="#da" x="344" y="168"/><use href="#da" x="344" y="188"/><use href="#da" x="344" y="207"/>
<use href="#da" x="343" y="239"/><use href="#da" x="343" y="290"/>
<use href="#da" x="383" y="252"/><use href="#da" x="383" y="284"/>
<use href="#da" x="428" y="324.5"/><use href="#da" x="428" y="335.5"/><use href="#da" x="428" y="345.5"/>
<use href="#da" x="462" y="277.5"/><use href="#da" x="462" y="289"/><use href="#da" x="462" y="300"/><use href="#da" x="462" y="313.5"/><use href="#da" x="462" y="332.5"/>
<use href="#da" x="517" y="243"/><use href="#da" x="517" y="261"/>
<use href="#fv" x="497" y="57"/><use href="#fv" x="554" y="57"/><use href="#fv" x="604" y="57"/>
<use href="#dv" x="474" y="147"/><use href="#dv" x="485" y="147"/><use href="#dv" x="510" y="147"/><use href="#dv" x="521" y="147"/><use href="#dv" x="554" y="147"/><use href="#dv" x="601" y="147"/><use href="#dv" x="647" y="147"/>
<use href="#dv" x="607" y="180" transform="translate(0,1) scale(1,1)"/><use href="#dv" x="657" y="179"/>
<use href="#da" x="582" y="229"/>
<path class="ln" d="M637,248 V243" marker-end="url(#m)"/>
<use href="#fa" x="670" y="220"/><use href="#fa" x="670" y="236"/>
<use href="#dv" x="389" y="599"/><use href="#dv" x="445" y="599"/>
<use href="#da" x="358" y="569"/><use href="#da" x="358" y="589"/>
<use href="#dv" x="460" y="637"/><use href="#dv" x="432" y="653"/><use href="#dv" x="497" y="653"/>
<use href="#da" x="559" y="454"/><use href="#da" x="559" y="473"/><use href="#da" x="559" y="492.5"/>
<use href="#da" x="268" y="380"/><use href="#da" x="268" y="420"/><use href="#da" x="268" y="443"/><use href="#da" x="268" y="463"/><use href="#da" x="268" y="484.5"/><use href="#da" x="268" y="501.5"/><use href="#da" x="268" y="518.5"/>
<use href="#da" x="268" y="538"/><use href="#da" x="268" y="556.5"/><use href="#da" x="268" y="573.5"/><use href="#da" x="268" y="590.5"/><use href="#da" x="268" y="608"/><use href="#da" x="268" y="627.5"/><use href="#da" x="268" y="646.5"/><use href="#da" x="268" y="666"/><use href="#da" x="268" y="685"/>
<use href="#da" transform="translate(258,722) scale(1.55,1)"/>
<use href="#da" x="258" y="789"/><use href="#da" x="258" y="813.5"/><use href="#da" x="258" y="833.5"/><use href="#da" x="258" y="849"/><use href="#da" x="258" y="866"/><use href="#da" x="258" y="884.5"/><use href="#da" x="258" y="901.5"/><use href="#da" x="258" y="919.5"/><use href="#da" x="258" y="946"/>
<use href="#da" x="281" y="787.5"/><use href="#da" x="281" y="804"/><use href="#da" x="281" y="823.5"/><use href="#da" x="281" y="902"/><use href="#da" x="281" y="921.5"/>
<path class="ln" d="M249,953 V966" /><path d="M245,966 H253 L249,975 Z" class="ah"/>
<use href="#da" transform="translate(507,789) scale(1.8,1)"/>
<use href="#da" transform="translate(543,797) scale(0.85,1)"/>
<use href="#da" transform="translate(567,797) scale(1.2,1)"/>
<use href="#da" transform="translate(543,886) scale(1.5,1)"/>
<use href="#da" transform="translate(543,933) scale(1.75,1)"/>
<path class="ln" d="M584,775 H577" marker-end="url(#m)"/>
<use href="#fa" transform="translate(674,796) scale(0.87,1)"/>
<path class="ln" d="M698,821 H672" marker-end="url(#m)"/>
<path class="ln" d="M672,829 H698" marker-start="url(#m)" marker-end="url(#m)"/>
<path class="ln" d="M672,854 H698" marker-start="url(#m)" marker-end="url(#m)"/>
<path class="ln" d="M663,843 V853" marker-end="url(#m)"/>
<path class="ln" d="M644,843 V851" marker-end="url(#m)"/>
<path class="ln" d="M647,856 V865"/>
<path class="ln" d="M613,873 H604 V882" marker-end="url(#m)"/>
<use href="#fa" x="670" y="873"/><use href="#fa" x="670" y="897"/><use href="#fa" x="670" y="941"/><use href="#fa" x="670" y="1006"/>
<path class="ln" d="M512,924 H522 V953 H512"/>
<path class="ln" d="M613,939 H513" marker-end="url(#m)"/>
<path class="ln" d="M512,958 H576" marker-end="url(#m)"/>
<path class="ln" d="M526,973 H683" marker-end="url(#m)"/>
<path class="ln" d="M453,924 H440" marker-end="url(#m)"/><path class="ln" d="M453,939 H440" marker-end="url(#m)"/><path class="ln" d="M453,955 H440" marker-end="url(#m)"/><path class="ln" d="M453,979.5 H440" marker-end="url(#m)"/><path class="ln" d="M453,995.5 H440" marker-end="url(#m)"/>
<path class="ln" d="M567,999 H553" marker-end="url(#m)"/><path class="ln" d="M567,1007 H553" marker-end="url(#m)"/><path class="ln" d="M567,1014 H553" marker-end="url(#m)"/>
<use href="#da" x="582" y="273.5"/><use href="#da" x="582" y="292"/><use href="#da" x="582" y="311.5"/><use href="#da" x="582" y="331"/><use href="#da" x="582" y="350"/><use href="#da" x="582" y="368.5"/><use href="#da" x="582" y="387.5"/><use href="#da" x="582" y="407"/><use href="#da" x="582" y="430.5"/><use href="#da" x="582" y="450.5"/><use href="#da" x="582" y="467.5"/><use href="#da" x="582" y="485"/><use href="#da" x="582" y="502"/><use href="#da" x="582" y="519"/><use href="#da" x="582" y="537"/><use href="#da" x="582" y="556"/><use href="#da" x="582" y="575"/><use href="#da" x="582" y="594"/><use href="#da" x="582" y="610.5"/><use href="#da" x="582" y="627"/><use href="#da" x="582" y="657.5"/><use href="#da" x="582" y="674"/><use href="#da" x="582" y="690"/><use href="#da" x="582" y="712"/><use href="#da" x="582" y="732"/><use href="#da" x="582" y="756"/>
<use href="#fa" x="670" y="273.5"/><use href="#fa" x="670" y="292"/><use href="#fa" x="670" y="311.5"/><use href="#fa" x="670" y="331"/><use href="#fa" x="670" y="350"/><use href="#fa" x="670" y="368.5"/><use href="#fa" x="670" y="387.5"/><use href="#fa" x="670" y="407"/><use href="#fa" x="670" y="430.5"/><use href="#fa" x="670" y="450.5"/><use href="#fa" x="670" y="467.5"/><use href="#fa" x="670" y="485"/><use href="#fa" x="670" y="502"/><use href="#fa" x="670" y="519"/><use href="#fa" x="670" y="537"/><use href="#fa" x="670" y="556"/><use href="#fa" x="670" y="575"/><use href="#fa" x="670" y="594"/><use href="#fa" x="670" y="610.5"/><use href="#fa" x="670" y="627"/><use href="#fa" x="670" y="641"/><use href="#fa" x="670" y="674"/><use href="#fa" x="670" y="690"/><use href="#fa" x="670" y="732"/><use href="#fa" x="670" y="756"/>
<use href="#ta" x="670" y="707"/><use href="#ta" x="670" y="717"/>
<path class="ln" d="M698,657.5 H672" marker-end="url(#m)"/>
<path d="M160,266 L165,261 V264 H221 V261 L226,266 L221,271 V268 H165 V271 Z" fill="#fff" stroke="#222" stroke-width="0.8"/>
<use href="#fa" transform="translate(160,145) scale(0.9,0.75)"/><use href="#fa" transform="translate(160,168.5) scale(0.9,0.75)"/>
<use href="#fa" x="160" y="343"/><use href="#fa" x="160" y="380"/><use href="#fa" x="160" y="419.5"/><use href="#fa" x="160" y="443"/><use href="#fa" x="160" y="463"/><use href="#fa" x="160" y="484.5"/><use href="#fa" x="160" y="501.5"/><use href="#fa" x="160" y="518.5"/>
<use href="#fa" x="160" y="538"/><use href="#fa" x="160" y="556.5"/><use href="#fa" x="160" y="573.5"/><use href="#fa" x="160" y="590.5"/><use href="#fa" x="160" y="608"/><use href="#fa" x="160" y="627.5"/><use href="#fa" x="160" y="646.5"/><use href="#fa" x="160" y="666"/><use href="#fa" x="160" y="685"/><use href="#fa" x="160" y="722"/>
<use href="#fa" x="160" y="789"/><use href="#fa" x="160" y="813.5"/><use href="#fa" x="160" y="833.5"/><use href="#fa" x="160" y="849"/><use href="#fa" x="160" y="866"/><use href="#fa" x="160" y="884.5"/><use href="#fa" x="160" y="901.5"/><use href="#fa" x="160" y="919.5"/>
<path d="M160,946 H190" stroke="#1e1e1e" stroke-width="1.6" marker-start="url(#m)" marker-end="url(#m)"/>
</g>

<!-- device outline -->
<g id="chip-outline"><rect x="175" y="68" width="509" height="964" fill="none" stroke="#111" stroke-width="2"/></g>
</svg>
